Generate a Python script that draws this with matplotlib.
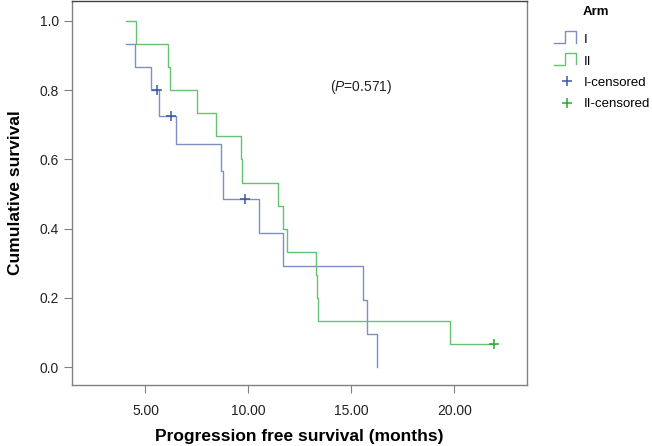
import matplotlib
matplotlib.use("Agg")
import matplotlib.pyplot as plt
from matplotlib.legend_handler import HandlerBase
from matplotlib.lines import Line2D

plt.rcParams['font.family'] = ['Liberation Sans', 'DejaVu Sans']
plt.rcParams['mathtext.fontset'] = 'custom'
plt.rcParams['mathtext.rm'] = 'Liberation Sans'
plt.rcParams['mathtext.it'] = 'Liberation Sans:italic'

# arm I (step curve + censored points)
arm1_time = [4.06, 4.50, 5.28, 5.67, 6.46, 8.66, 8.75, 10.53, 11.70, 15.55, 15.78, 16.26]
arm1_surv = [0.933, 0.867, 0.800, 0.727, 0.646, 0.566, 0.485, 0.388, 0.291, 0.194, 0.097, 0.0]
arm1_cens_time = [5.55, 6.23, 9.85]
arm1_cens_surv = [0.800, 0.727, 0.485]

# arm II
arm2_time = [4.06, 4.53, 6.08, 6.17, 7.51, 8.41, 9.63, 9.68, 11.42, 11.67, 11.86,
             13.26, 13.33, 13.38, 19.81, 21.94]
arm2_surv = [1.0, 0.933, 0.867, 0.800, 0.733, 0.667, 0.600, 0.533, 0.467, 0.400, 0.333,
             0.267, 0.200, 0.133, 0.067, 0.067]
arm2_cens_time = [21.94]
arm2_cens_surv = [0.067]

xticks = [5, 10, 15, 20]
yticks = [0.0, 0.2, 0.4, 0.6, 0.8, 1.0]
p_text = '($\\mathit{P}$=0.571)'

c1 = '#7f8fc4'
c2 = '#66c272'
c1_cens = '#3d57a3'
c2_cens = '#2aa83a'


class StepHandler(HandlerBase):
    def create_artists(self, legend, orig_handle, xdescent, ydescent,
                       width, height, fontsize, trans):
        x0 = -xdescent
        y0 = -ydescent
        xs = [x0, x0 + 0.45 * width, x0 + 0.45 * width, x0 + 0.85 * width, x0 + 0.85 * width]
        ys = [y0, y0, y0 + 1.3 * height, y0 + 1.3 * height, y0 + 0.05 * height]
        ln = Line2D(xs, ys, color=orig_handle.get_color(), lw=1.0)
        ln.set_transform(trans)
        return [ln]


fig = plt.figure(figsize=(6.52, 4.46), dpi=100)
ax = fig.add_axes([0.110, 0.137, 0.698, 0.861])

l1, = ax.step(arm1_time, arm1_surv, where='post', color=c1, lw=1.0)
l2, = ax.step(arm2_time, arm2_surv, where='post', color=c2, lw=1.0)
m1, = ax.plot(arm1_cens_time, arm1_cens_surv, '+', color=c1_cens, ms=7, mew=1.1, ls='none')
m2, = ax.plot(arm2_cens_time, arm2_cens_surv, '+', color=c2_cens, ms=7, mew=1.1, ls='none')

ax.set_xlim(1.42, 23.52)
ax.set_ylim(-0.051, 1.058)
ax.set_xticks(xticks)
ax.set_xticklabels(['%.2f' % v for v in xticks])
ax.set_yticks(yticks)
ax.set_yticklabels(['%.1f' % v for v in yticks])
ax.tick_params(direction='out', length=6, width=0.8, color='#808080',
               labelsize=10, labelcolor='#222222')
ax.tick_params(axis='x', pad=8)
ax.tick_params(axis='y', pad=3)
for s in ax.spines.values():
    s.set_color('#808080')
    s.set_linewidth(1.0)
ax.spines['top'].set_color('#404040')

ax.set_xlabel('Progression free survival (months)', fontsize=12.5, fontweight='bold', labelpad=8)
ax.set_ylabel('Cumulative survival', fontsize=12.5, fontweight='bold', labelpad=12)

ax.text(13.98, 0.81, p_text, fontsize=10, va='center', ha='left', color='#222222')

fig.text(0.893, 0.972, 'Arm', fontsize=9.5, fontweight='bold', va='center')
leg = fig.legend([l1, l2, m1, m2], ['I', 'II', 'I-censored', 'II-censored'],
                 handler_map={l1: StepHandler(), l2: StepHandler()},
                 loc='upper left', bbox_to_anchor=(0.843, 0.933), frameon=False,
                 fontsize=9.5, handlelength=2.0, handletextpad=0.3, labelspacing=0.7,
                 borderaxespad=0, borderpad=0.3)

plt.savefig('out.png', dpi=100)
